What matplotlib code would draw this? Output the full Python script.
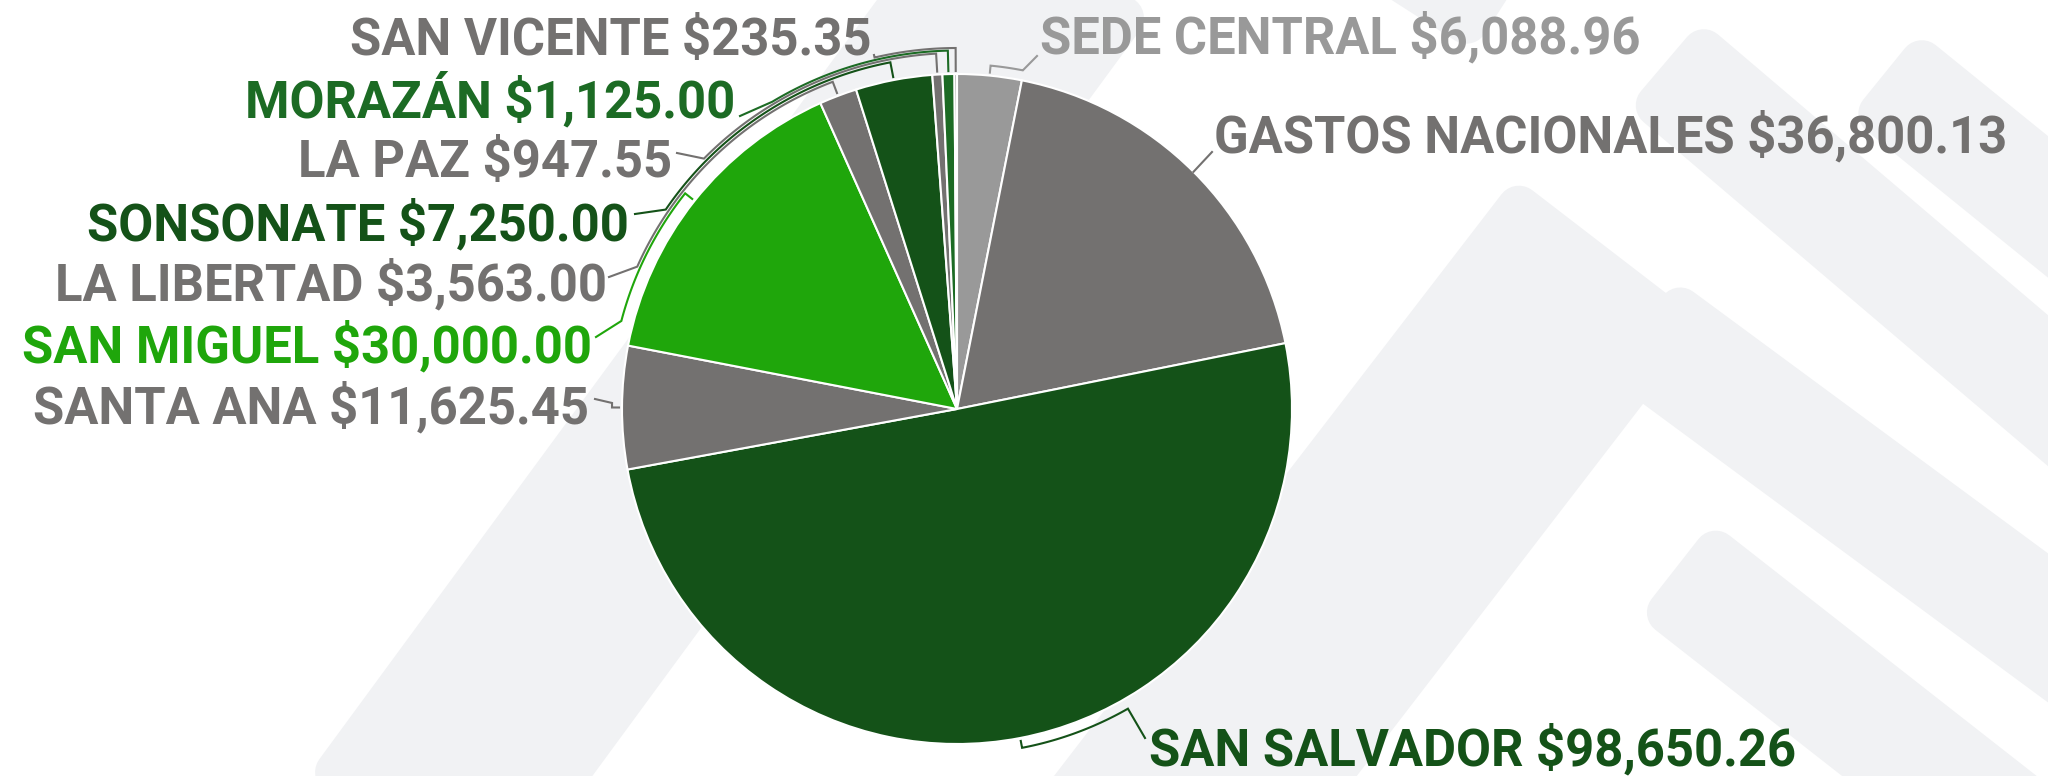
import numpy as np
import matplotlib
matplotlib.use("Agg")
from matplotlib import pyplot as plt
from matplotlib.patches import Polygon

# data (clockwise from 12 o'clock)
names = ['SEDE CENTRAL', 'GASTOS NACIONALES', 'SAN SALVADOR', 'SANTA ANA',
         'SAN MIGUEL', 'LA LIBERTAD', 'SONSONATE', 'LA PAZ', 'MORAZÁN',
         'SAN VICENTE']
amounts = [6088.96, 36800.13, 98650.26, 11625.45, 30000.00, 3563.00,
           7250.00, 947.55, 1125.00, 235.35]
colors = ['#999999', '#737170', '#145218', '#737170', '#1fa60b', '#737170',
          '#145218', '#737170', '#1c6b24', '#737170']

# layout in pixels (y down)
W, H = 2048, 776
cx, cy, r = 957, 409, 335
# label: x, baseline y, align, bracket radius, anchor angle, leader end
layout = {
    'SEDE CENTRAL':      (1040, 53, 'left', 345, 11.0, (1037, 56)),
    'GASTOS NACIONALES': (1214, 152, 'left', 335, None, (1212, 152)),
    'SAN SALVADOR':      (1149, 765, 'left', 345, 150.3, (1145, 738)),
    'SANTA ANA':         (589, 423, 'right', 345, 271.0, (595, 399)),
    'SAN MIGUEL':        (592, 362, 'right', 347, 284.7, (596, 337)),
    'LA LIBERTAD':       (607, 300, 'right', 350, 294.0, (609, 277)),
    'SONSONATE':         (629, 240, 'right', 353, 304.4, (635, 214)),
    'LA PAZ':            (672, 177, 'right', 356, 314.7, (677, 153)),
    'MORAZÁN':           (735, 117, 'right', 358.5, 329.0, (740, 116)),
    'SAN VICENTE':       (871, 55, 'right', 361, 346.8, (874, 55)),
}

bg_bands = [  # (x0, y0, x1, y1, width) faint background stripes
    (399, 845, 1060, -55, 230),
    (1610, 250, 1110, 900, 240),
    (1664, 64, 2200, 520, 115),
    (1640, 327, 2200, 740, 120),
    (1675, 569, 2200, 980, 120),
    (1884, 74, 2200, 330, 110),
    (1250, -150, 1500, 10, 100),
]


def pt(ang, rad):
    a = np.radians(ang)
    return cx + rad * np.sin(a), cy - rad * np.cos(a)


fig = plt.figure(figsize=(W / 100, H / 100), dpi=100)
ax = fig.add_axes([0, 0, 1, 1])

px = 72 / 100  # points per pixel
for x0, y0, x1, y1, w in bg_bands:
    d = np.array([x1 - x0, y1 - y0], float)
    d /= np.hypot(*d)
    n = np.array([-d[1], d[0]])
    rc = 22
    h = w / 2 - rc
    p0 = np.array([x0, y0]) + d * rc
    p1 = np.array([x1, y1]) - d * rc
    poly = [p0 + n * h, p1 + n * h, p1 - n * h, p0 - n * h]
    ax.add_patch(Polygon(poly, closed=True, facecolor='#f1f2f4',
                         edgecolor='#f1f2f4', lw=2 * rc * px,
                         joinstyle='round', zorder=0))

ax.pie(amounts, colors=colors, startangle=270, counterclock=True,
       center=(cx, cy), radius=r,
       wedgeprops=dict(edgecolor='white', linewidth=1.5))

fr = np.cumsum([0] + amounts) / sum(amounts) * 360
mids = (fr[:-1] + fr[1:]) / 2

for i, name in enumerate(names):
    tx, ty, ha, R, anc, end = layout[name]
    col = colors[i]
    m = mids[i]
    if anc is None:
        xs = [pt(m, r)[0], end[0]]
        ys = [pt(m, r)[1], end[1]]
    else:
        t0 = pt(m, r + 3)
        angs = np.linspace(m, anc, 80)
        arc = [pt(a, R) for a in angs]
        xs = [t0[0]] + [p[0] for p in arc] + [end[0]]
        ys = [t0[1]] + [p[1] for p in arc] + [end[1]]
    ax.plot(xs, ys, color=col, lw=1.5, solid_joinstyle='miter', zorder=3)
    ax.text(tx, ty, f'{name} ${amounts[i]:,.2f}', ha=ha, va='baseline',
            fontsize=36.5, fontfamily='Roboto', fontweight='bold',
            color=col, zorder=4)

ax.set_xlim(0, W)
ax.set_ylim(H, 0)
ax.set_aspect('auto')
ax.axis('off')

fig.savefig('out.png', dpi=100, facecolor='white')
